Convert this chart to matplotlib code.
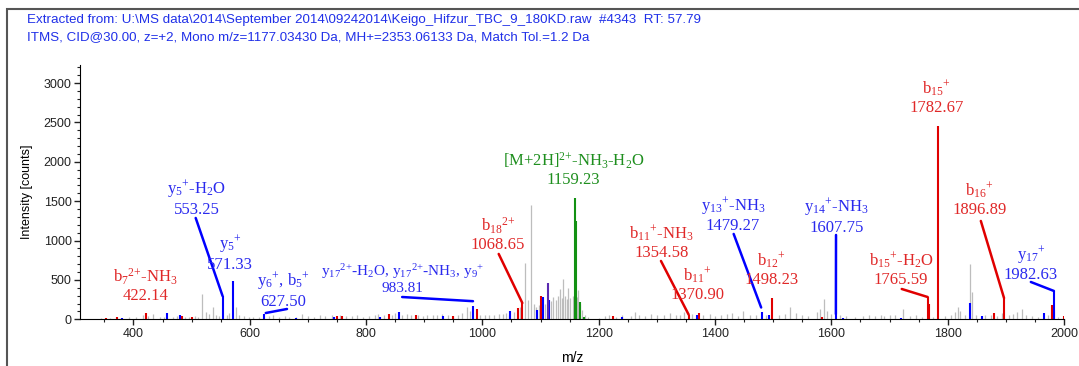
# MS/MS spectrum with annotated b / y fragment ions
import matplotlib
matplotlib.use("Agg")
import matplotlib.pyplot as plt
import matplotlib.patches as patches
from matplotlib.ticker import MultipleLocator

plt.rcParams["mathtext.fontset"] = "custom"
plt.rcParams["mathtext.rm"] = "Liberation Serif"
plt.rcParams["mathtext.default"] = "regular"

# Unassigned peaks (gray)
gray_mz = [345, 360, 378, 392, 405, 416, 425, 434, 445, 452, 468, 475, 488, 495, 505, 511,
           518, 525, 530, 536, 542, 547, 560, 565, 576, 582, 590, 598, 605, 615, 633, 640,
           650, 660, 668, 680, 690, 700, 710, 720, 730, 742, 755, 765, 775, 785, 795, 805,
           815, 821, 830, 845, 850, 862, 870, 878, 890, 898, 905, 915, 922, 930, 940, 950,
           958, 965, 974, 978, 995, 1005, 1012, 1020, 1028, 1035, 1040, 1045, 1055, 1064,
           1074, 1079, 1083, 1088, 1092, 1097, 1107, 1118, 1122, 1126, 1130, 1133, 1136,
           1139, 1142, 1145, 1148, 1151, 1155, 1158, 1162, 1164, 1167, 1171, 1176, 1182,
           1200, 1210, 1218, 1230, 1240, 1255, 1262, 1270, 1280, 1290, 1300, 1312, 1322,
           1332, 1340, 1346, 1360, 1380, 1392, 1400, 1410, 1420, 1430, 1440, 1448, 1460,
           1470, 1488, 1510, 1520, 1529, 1540, 1550, 1560, 1575, 1580, 1587, 1592, 1600,
           1615, 1625, 1640, 1655, 1665, 1675, 1685, 1690, 1700, 1710, 1723, 1735, 1745,
           1755, 1775, 1795, 1805, 1812, 1818, 1822, 1830, 1838, 1841, 1848, 1865, 1875,
           1885, 1893, 1905, 1912, 1920, 1927, 1935, 1945, 1955, 1972, 1990]
gray_int = [15, 20, 18, 25, 30, 60, 40, 70, 30, 25, 35, 40, 30, 25, 40, 35,
            325, 90, 70, 160, 60, 40, 60, 80, 150, 50, 40, 30, 25, 30, 40, 55,
            30, 40, 35, 30, 70, 40, 35, 50, 40, 60, 50, 45, 40, 50, 35, 45,
            50, 70, 60, 55, 80, 60, 70, 50, 60, 45, 55, 60, 50, 65, 55, 45,
            60, 80, 155, 100, 60, 50, 60, 55, 65, 70, 80, 60, 90, 150,
            716, 250, 1452, 200, 150, 180, 200, 230, 280, 250, 300, 385, 270,
            512, 300, 260, 400, 270, 300, 250, 280, 370, 200, 120, 60, 30,
            20, 40, 60, 30, 50, 40, 90, 50, 40, 70, 60, 50, 80,
            60, 50, 90, 70, 50, 70, 40, 60, 70, 80, 40, 100, 60,
            50, 50, 60, 70, 157, 80, 50, 40, 90, 130, 258, 100, 70,
            50, 40, 30, 40, 50, 45, 50, 40, 60, 50, 130, 40, 50,
            30, 30, 40, 50, 90, 155, 100, 60, 703, 350, 60, 50, 60,
            40, 80, 60, 70, 90, 135, 60, 40, 30, 50, 30]

# b ions (red)
red_mz = [352, 372, 422.14, 483, 500, 750, 758, 840, 885, 950, 991, 1061, 1068.65, 1100,
          1224, 1354.58, 1373, 1498.23, 1584, 1765.59, 1768, 1782.67, 1880, 1896.89,
          1979, 1983, 2000]
red_int = [20, 25, 80, 40, 30, 45, 40, 70, 60, 40, 135, 140, 207, 290,
           40, 60, 80, 270, 30, 283, 200, 2456, 80, 270,
           180, 120, 40]

# y ions (blue)
blue_mz = [380, 457, 480, 553.25, 571.33, 624, 680, 745, 824, 856, 932, 983.81, 1048,
           1094, 1104, 1114, 1240, 1369, 1481, 1493, 1607.75, 1620, 1720, 1838, 1859,
           1966, 1982.63]
blue_int = [15, 80, 60, 296, 487, 70, 20, 25, 35, 95, 40, 170, 100,
            120, 285, 245, 25, 50, 90, 50, 67, 20, 20, 207, 40,
            85, 360]

# overlapping b/y peak (purple)
purple_mz = [1112]
purple_int = [460]

# precursor-related (green)
green_mz = [1159.23, 1160.5, 1168, 1175]
green_int = [1541, 1250, 224, 30]

# annotation labels: text, peak m/z, peak intensity, kind
label_text = [r"b$_7$$^{2{+}}$-NH$_3$" + "\n422.14",
              r"y$_5$$^{+}$-H$_2$O" + "\n553.25",
              r"y$_5$$^{+}$" + "\n571.33",
              r"y$_6$$^{+}$, b$_5$$^{+}$" + "\n627.50",
              r"y$_{17}$$^{2{+}}$-H$_2$O, y$_{17}$$^{2{+}}$-NH$_3$, y$_9$$^{+}$" + "\n983.81",
              r"b$_{18}$$^{2{+}}$" + "\n1068.65",
              r"[M+2H]$^{2{+}}$-NH$_3$-H$_2$O" + "\n1159.23",
              r"b$_{11}$$^{+}$-NH$_3$" + "\n1354.58",
              r"b$_{11}$$^{+}$" + "\n1370.90",
              r"y$_{13}$$^{+}$-NH$_3$" + "\n1479.27",
              r"b$_{12}$$^{+}$" + "\n1498.23",
              r"y$_{14}$$^{+}$-NH$_3$" + "\n1607.75",
              r"b$_{15}$$^{+}$-H$_2$O" + "\n1765.59",
              r"b$_{15}$$^{+}$" + "\n1782.67",
              r"b$_{16}$$^{+}$" + "\n1896.89",
              r"y$_{17}$$^{+}$" + "\n1982.63"]
label_mz = [422.14, 553.25, 571.33, 627.5, 983.81, 1068.65, 1159.23, 1354.58, 1370.90,
            1479.27, 1498.23, 1607.75, 1765.59, 1782.67, 1896.89, 1982.63]
label_int = [80, 296, 487, 80, 230, 207, 1541, 60, 80, 150, 270, 67, 283, 2456, 270, 360]
label_kind = ["b", "y", "y", "y", "y", "b", "p", "b", "b", "y", "b", "y", "b", "b", "b", "y"]

# layout: where each label sits and where its leader line starts (None = no line)
label_pos = [(420, 429), (509, 1541), (566, 842), (658, 372), (862, 518), (1027, 1078),
             (1157, 1903), (1308, 977), (1370, 449), (1431, 1332), (1497, 633),
             (1609, 1313), (1720, 633), (1781, 2818), (1855, 1522), (1943, 710)]
label_size = [12, 12, 12, 12, 11, 12, 12, 12, 12, 12, 12, 12, 12, 12, 12, 12]
line_start = [None, (507, 1287), None, (664, 131), (862, 283), (1028, 830),
              None, (1307, 741), None, (1432, 1084), None,
              (1608, 1071), (1721, 385), None, (1857, 1249), (1943, 474)]

peak_col = {"b": "#e00000", "y": "#0000ff", "p": "#139113"}
text_col = {"b": "#e02828", "y": "#2a2aee", "p": "#1f8f1f"}
head_col = "#2030e8"

fig = plt.figure(figsize=(10.79, 3.66), dpi=100)
ax = fig.add_axes([0.0741, 0.1276, 0.912, 0.6948])

ax.vlines(gray_mz, 0, gray_int, color="#bdbdbd", lw=0.9, zorder=1)
ax.vlines(red_mz, 0, red_int, color=peak_col["b"], lw=1.5, zorder=2)
ax.vlines(blue_mz, 0, blue_int, color=peak_col["y"], lw=1.5, zorder=2)
ax.vlines(purple_mz, 0, purple_int, color="#5a2ab0", lw=1.5, zorder=2)
ax.vlines(green_mz, 0, green_int, color=peak_col["p"], lw=1.5, zorder=2)

for txt, mz, it, k, pos, fs, st in zip(label_text, label_mz, label_int, label_kind,
                                       label_pos, label_size, line_start):
    ax.text(pos[0], pos[1], txt, ha="center", va="center", color=text_col[k],
            family="Liberation Serif", fontsize=fs, linespacing=1.1, zorder=4)
    if st is not None:
        ax.annotate("", xy=(mz, it), xytext=st,
                    arrowprops=dict(arrowstyle="-", color=peak_col[k], lw=1.8,
                                    shrinkA=0, shrinkB=0), zorder=3)

ax.set_xlim(308, 2000)
ax.set_ylim(0, 3230)
ax.xaxis.set_major_locator(MultipleLocator(200))
ax.xaxis.set_minor_locator(MultipleLocator(50))
ax.yaxis.set_major_locator(MultipleLocator(500))
ax.yaxis.set_minor_locator(MultipleLocator(100))
ax.spines["top"].set_visible(False)
ax.spines["right"].set_visible(False)
ax.tick_params(which="major", length=4, width=1, pad=2, labelsize=9, colors="#222222")
ax.tick_params(which="minor", length=2.5, width=0.8, colors="#222222")
for lab in ax.get_xticklabels() + ax.get_yticklabels():
    lab.set_family("Liberation Sans")
ax.set_xlabel("m/z", family="Liberation Sans", fontsize=10, labelpad=8)
ax.set_ylabel("Intensity [counts]", family="Liberation Sans", fontsize=9, labelpad=8)

# header lines
fig.text(27 / 1079, 1 - 20 / 366,
         "Extracted from: U:\\MS data\\2014\\September 2014\\09242014\\"
         "Keigo_Hifzur_TBC_9_180KD.raw  #4343  RT: 57.79",
         color=head_col, family="Liberation Sans", fontsize=9.6, va="center")
fig.text(27 / 1079, 1 - 37 / 366,
         "ITMS, CID@30.00, z=+2, Mono m/z=1177.03430 Da, MH+=2353.06133 Da, Match Tol.=1.2 Da",
         color=head_col, family="Liberation Sans", fontsize=9.6, va="center")

# outer frame
frame = patches.Rectangle((7 / 1079, -0.05), 1.2, 1 - 9 / 366 + 0.05,
                          transform=fig.transFigure, fill=False,
                          edgecolor="#555555", lw=1.5)
fig.patches.append(frame)

fig.savefig("out.png", dpi=100)
